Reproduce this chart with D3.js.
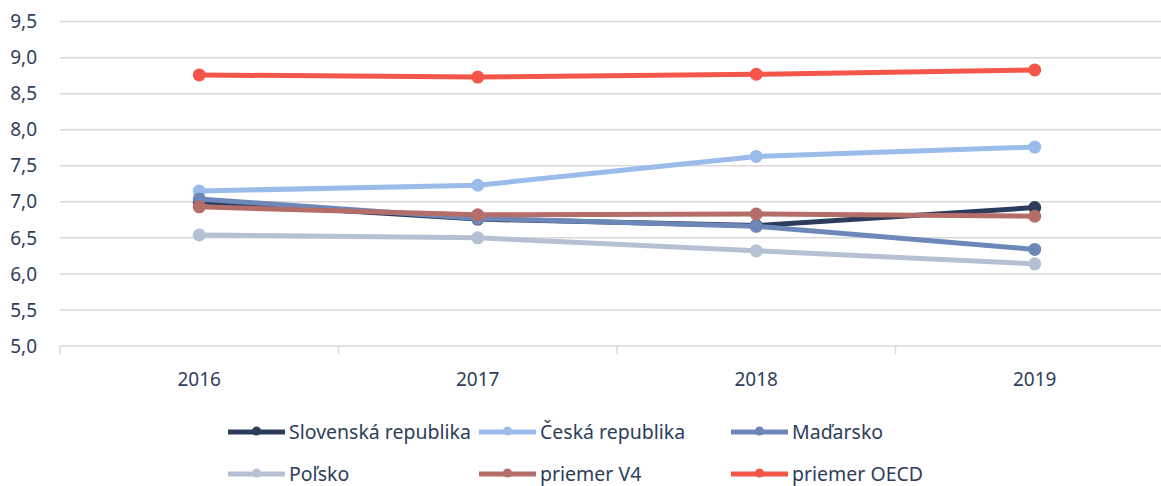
<!DOCTYPE html>
<html>
<head>
<meta charset="utf-8">
<script src="https://cdn.jsdelivr.net/npm/d3@7"></script>
<style>
  body { margin: 0; background: #fff; }
  svg { display: block; font-family: "Noto Sans", sans-serif; }
</style>
</head>
<body>
<svg id="chart" width="1161" height="486"></svg>
<script>
// ---- data ----
var years = ["2016", "2017", "2018", "2019"]
var yTicks = [5.0, 5.5, 6.0, 6.5, 7.0, 7.5, 8.0, 8.5, 9.0, 9.5]

var slovensko = [7.00, 6.76, 6.67, 6.92]
var cesko     = [7.15, 7.23, 7.63, 7.76]
var madarsko  = [7.04, 6.77, 6.66, 6.34]
var polsko    = [6.54, 6.50, 6.32, 6.14]
var priemerV4 = [6.93, 6.82, 6.83, 6.80]
var priemerOECD = [8.76, 8.73, 8.77, 8.83]

var seriesNames  = ["Slovenská republika", "Česká republika", "Maďarsko", "Poľsko", "priemer V4", "priemer OECD"]
var seriesValues = [slovensko, cesko, madarsko, polsko, priemerV4, priemerOECD]
var seriesColors = ["#2b3c5c", "#9bbbea", "#6c87b8", "#b5c1d2", "#b56d6a", "#f4564a"]

var textColor = "#2e3d5a"

var svg = d3.select("#chart")

// ---------------------------//
//       AXIS  AND SCALE      //
// ---------------------------//
var x = d3.scaleBand().domain(years).range([60, 1174])
var y = d3.scaleLinear().domain([5, 9.5]).range([346, 21.6])

// gridlines
svg.append("g")
  .selectAll("line")
  .data(yTicks.filter(function(d){ return d > 5 }))
  .enter()
  .append("line")
    .attr("x1", 60).attr("x2", 1174)
    .attr("y1", function(d){ return y(d) }).attr("y2", function(d){ return y(d) })
    .style("stroke", "#d9d9d9")
    .style("stroke-width", 1.5)

// y labels
svg.append("g")
  .selectAll("text")
  .data(yTicks)
  .enter()
  .append("text")
    .attr("x", 37)
    .attr("y", function(d){ return y(d) })
    .attr("dy", "0.35em")
    .attr("text-anchor", "end")
    .style("font-size", "19px")
    .style("fill", textColor)
    .text(function(d){ return d3.format(".1f")(d).replace(".", ",") })

// x axis line + ticks at band edges
svg.append("line")
  .attr("x1", 60).attr("x2", 1174)
  .attr("y1", y(5)).attr("y2", y(5))
  .style("stroke", "#d9d9d9").style("stroke-width", 1.5)

var edges = years.map(function(d){ return x(d) }).concat([x.range()[1]])
svg.append("g")
  .selectAll("line")
  .data(edges)
  .enter()
  .append("line")
    .attr("x1", function(d){ return d }).attr("x2", function(d){ return d })
    .attr("y1", y(5)).attr("y2", y(5) + 8)
    .style("stroke", "#d9d9d9").style("stroke-width", 1.5)

svg.append("g")
  .selectAll("text")
  .data(years)
  .enter()
  .append("text")
    .attr("x", function(d){ return x(d) + x.bandwidth() / 2 })
    .attr("y", 379)
    .attr("dy", "0.35em")
    .attr("text-anchor", "middle")
    .style("font-size", "19px")
    .style("fill", textColor)
    .text(function(d){ return d })

// ---------------------------//
//       LINES + DOTS         //
// ---------------------------//
var line = d3.line()
  .x(function(d, i){ return x(years[i]) + x.bandwidth() / 2 })
  .y(function(d){ return y(d) })

seriesValues.forEach(function(vals, k){
  var g = svg.append("g")
  g.append("path")
    .attr("d", line(vals))
    .style("fill", "none")
    .style("stroke", seriesColors[k])
    .style("stroke-width", 5)
    .style("stroke-linejoin", "round")
  g.selectAll("circle")
    .data(vals)
    .enter()
    .append("circle")
      .attr("cx", function(d, i){ return x(years[i]) + x.bandwidth() / 2 })
      .attr("cy", function(d){ return y(d) })
      .attr("r", 6.5)
      .style("fill", seriesColors[k])
})

// ---------------------------//
//       LEGEND               //
// ---------------------------//
var legX = [228, 479, 731]
var legY = [432, 474]

var leg = svg.append("g")
  .selectAll("g")
  .data(seriesNames)
  .enter()
  .append("g")
    .attr("transform", function(d, i){
      return "translate(" + legX[i % 3] + "," + legY[Math.floor(i / 3)] + ")"
    })

leg.append("line")
  .attr("x1", 0).attr("x2", 57)
  .attr("y1", 0).attr("y2", 0)
  .style("stroke", function(d, i){ return seriesColors[i] })
  .style("stroke-width", 5)
leg.append("circle")
  .attr("cx", 28.5).attr("cy", -1)
  .attr("r", 4.5)
  .style("fill", function(d, i){ return seriesColors[i] })
leg.append("text")
  .attr("x", 61)
  .attr("y", 6.5)
  .style("font-size", "19.5px")
  .style("fill", textColor)
  .text(function(d){ return d })
</script>
</body>
</html>
